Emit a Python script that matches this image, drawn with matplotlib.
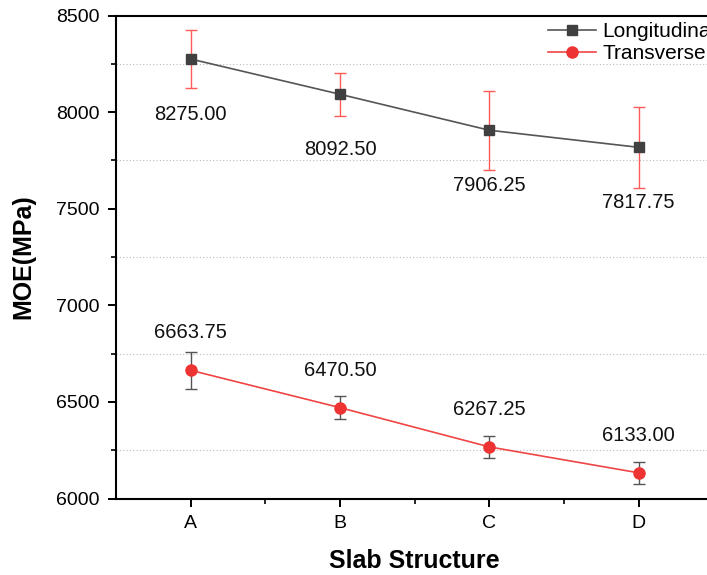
import numpy as np
import matplotlib
matplotlib.use("Agg")
import matplotlib.pyplot as plt
from matplotlib.ticker import MultipleLocator

plt.rcParams['font.family'] = ['Liberation Sans', 'DejaVu Sans']

groups = ["A", "B", "C", "D"]
longi = [8275.00, 8092.50, 7906.25, 7817.75]
longi_err = [150, 112, 205, 209]
trans = [6663.75, 6470.50, 6267.25, 6133.00]
trans_err = [97, 60, 56, 57]

x = np.arange(1, len(groups) + 1)

fig = plt.figure(figsize=(7.07, 5.75), dpi=100)
ax = fig.add_axes([0.164, 0.133, 0.845, 0.84])

# longitudinal: dark squares, red error bars
l1 = ax.errorbar(x, longi, yerr=longi_err, color="#555555", lw=1.2,
                 marker="s", ms=7, mfc="#404040", mec="#404040",
                 ecolor="#ff5a5a", elinewidth=1.0, capsize=4, capthick=1.0,
                 zorder=3)
# transverse: red circles, dark error bars
l2 = ax.errorbar(x, trans, yerr=trans_err, color="#f04545", lw=1.2,
                 marker="o", ms=8, mfc="#ee3333", mec="#ee3333",
                 ecolor="#555555", elinewidth=1.0, capsize=4, capthick=1.0,
                 zorder=3)

for xi, v in zip(x, longi):
    ax.annotate("%.2f" % v, (xi, v), xytext=(0, -40), textcoords="offset points",
                ha="center", va="center", fontsize=14.5, color="#111111")
for xi, v in zip(x, trans):
    ax.annotate("%.2f" % v, (xi, v), xytext=(0, 27), textcoords="offset points",
                ha="center", va="center", fontsize=14.5, color="#111111")

ax.set_xlim(0.5, 4.5)
ax.set_ylim(6000, 8500)
ax.set_xticks(x)
ax.set_xticklabels(groups)
ax.set_xticks([1.5, 2.5, 3.5], minor=True)
ax.yaxis.set_major_locator(MultipleLocator(500))
ax.yaxis.set_minor_locator(MultipleLocator(250))
ax.grid(which="minor", axis="y", linestyle=(0, (1, 2)), color="#bbbbbb", lw=0.8)
ax.grid(which="major", visible=False)

ax.tick_params(which="major", direction="out", length=6, width=1.4, labelsize=14, pad=6)
ax.tick_params(which="minor", direction="out", length=3.5, width=1.2)
for s in ax.spines.values():
    s.set_linewidth(1.5)
ax.spines["right"].set_visible(False)

ax.set_xlabel("Slab Structure", fontsize=18, fontweight="bold", labelpad=12)
ax.set_ylabel("MOE(MPa)", fontsize=18, fontweight="bold", labelpad=15)

# legend shows only line + marker (no error bars); cropped at the right edge like the source
ax.legend([l1.lines[0], l2.lines[0]], ["Longitudinal", "Transverse"],
          loc="upper left", bbox_to_anchor=(0.775, 0.962), bbox_transform=fig.transFigure,
          frameon=False, fontsize=15, handlelength=2.3, handletextpad=0.3,
          borderpad=0, borderaxespad=0, labelspacing=0.15)

fig.savefig("out.png", dpi=100)
